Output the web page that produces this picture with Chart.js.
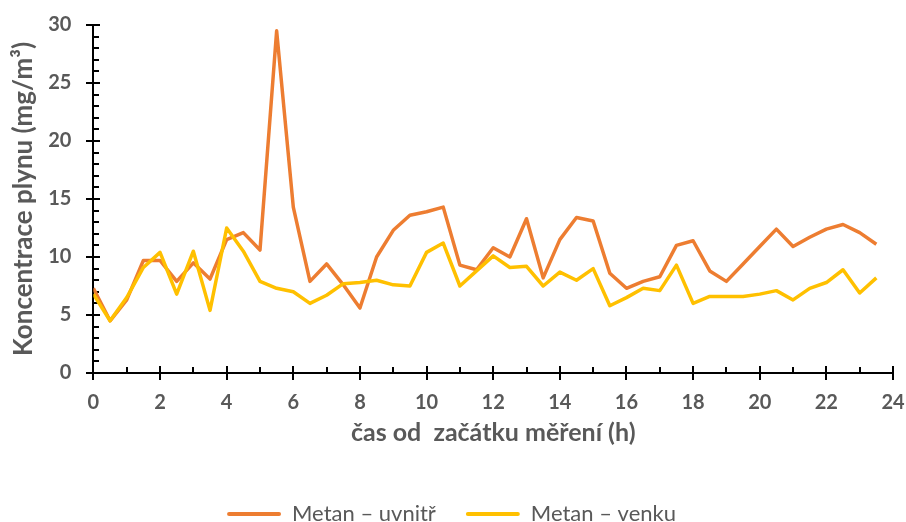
<!DOCTYPE html>
<html><head><meta charset="utf-8">
<script src="https://cdn.jsdelivr.net/npm/chart.js@4"></script>
<style>html,body{margin:0;padding:0;background:#fff}#wrap{width:906px;height:522px}</style>
</head><body><div id="wrap"><canvas id="c" width="906" height="522"></canvas></div>
<script>
const hours = [0,0.5,1,1.5,2,2.5,3,3.5,4,4.5,5,5.5,6,6.5,7,7.5,8,8.5,9,9.5,10,10.5,11,11.5,12,12.5,13,13.5,14,14.5,15,15.5,16,16.5,17,17.5,18,18.5,19,19.5,20,20.5,21,21.5,22,22.5,23,23.5];
const metanInside = [7.3,4.5,6.3,9.7,9.7,7.9,9.5,8.1,11.5,12.1,10.6,29.5,14.3,7.9,9.4,7.6,5.6,10.0,12.3,13.6,13.9,14.3,9.3,8.9,10.8,10.0,13.3,8.2,11.5,13.4,13.1,8.6,7.3,7.9,8.3,11.0,11.4,8.8,7.9,9.4,10.9,12.4,10.9,11.7,12.4,12.8,12.1,11.1];
const metanOutside = [6.8,4.5,6.5,9.1,10.4,6.8,10.5,5.4,12.5,10.5,7.9,7.3,7.0,6.0,6.7,7.7,7.8,8.0,7.6,7.5,10.4,11.2,7.5,8.8,10.1,9.1,9.2,7.5,8.7,8.0,9.0,5.8,6.5,7.3,7.1,9.3,6.0,6.6,6.6,6.6,6.8,7.1,6.3,7.3,7.8,8.9,6.9,8.2];
const seriesNames = ['Metan – uvnitř','Metan – venku'];
const xTitle = 'čas od  začátku měření (h)';
const yTitle = 'Koncentrace plynu (mg/m³)';

const FONT = 'Lato, "Open Sans", "Liberation Sans", sans-serif';
const GREY = '#595959';

const axesPlugin = {
  id: 'axesPlugin',
  beforeDatasetsDraw(chart) {
    const {ctx, scales:{x, y}} = chart;
    ctx.save();
    ctx.strokeStyle = '#000';
    ctx.lineWidth = 2;
    const x0 = Math.round(x.getPixelForValue(0)), y0 = Math.round(y.getPixelForValue(0));
    ctx.beginPath();
    ctx.moveTo(x0, y.getPixelForValue(30)); ctx.lineTo(x0, y0);
    ctx.moveTo(x0, y0); ctx.lineTo(x.getPixelForValue(24), y0);
    ctx.stroke();
    ctx.beginPath();
    for (let v = 0; v <= 30; v++) {
      const py = Math.round(y.getPixelForValue(v));
      if (v % 5 === 0) { ctx.moveTo(x0 - 7, py); ctx.lineTo(x0 + 7, py); }
      else { ctx.moveTo(x0, py); ctx.lineTo(x0 + 6, py); }
    }
    for (let v = 0; v <= 24; v++) {
      const px = Math.round(x.getPixelForValue(v));
      if (v % 2 === 0) { ctx.moveTo(px, y0 - 7); ctx.lineTo(px, y0 + 7); }
      else { ctx.moveTo(px, y0); ctx.lineTo(px, y0 - 6); }
    }
    ctx.stroke();
    ctx.restore();
  }
};

new Chart(document.getElementById('c'), {
  type: 'line',
  data: {
    datasets: [
      { label: seriesNames[0], data: hours.map((h,i)=>({x:h, y:metanInside[i]})), borderColor:'#ED7D31', backgroundColor:'#ED7D31', borderWidth:3.5, borderJoinStyle:'round', pointRadius:0, tension:0, order:1 },
      { label: seriesNames[1], data: hours.map((h,i)=>({x:h, y:metanOutside[i]})), borderColor:'#FFC000', backgroundColor:'#FFC000', borderWidth:3.5, borderJoinStyle:'round', pointRadius:0, tension:0, order:0 }
    ]
  },
  options: {
    responsive:false, animation:false,
    layout:{ autoPadding:false, padding:{ left:10, right:13, top:25, bottom:-13 } },
    plugins:{
      tooltip:{enabled:false},
      legend:{ position:'bottom',
        labels:{ boxWidth:54, boxHeight:4, padding:30, color:GREY, useBorderRadius:true, borderRadius:2,
          font:{family:FONT, size:22},
          sort:(a,b)=>a.datasetIndex-b.datasetIndex,
          generateLabels:(chart)=>Chart.defaults.plugins.legend.labels.generateLabels(chart).map(l=>Object.assign(l,{lineWidth:0}))
        } }
    },
    scales:{
      x:{ type:'linear', min:0, max:24,
        afterFit:(s)=>{ s.paddingLeft = 0; s.paddingRight = 0; },
        ticks:{ stepSize:2, color:GREY, padding:18, maxRotation:0, font:{family:FONT, size:20, weight:'bold'} },
        grid:{ display:false, drawTicks:false }, border:{ display:false },
        title:{ display:true, text:xTitle, color:GREY, font:{family:FONT, size:25, weight:'bold'}, padding:{top:-15, bottom:25} }
      },
      y:{ min:0, max:30,
        afterFit:(s)=>{ s.paddingTop = 0; s.paddingBottom = 0; },
        ticks:{ stepSize:5, color:GREY, padding:22, font:{family:FONT, size:20, weight:'bold'} },
        grid:{ display:false, drawTicks:false }, border:{ display:false },
        title:{ display:true, text:yTitle, color:GREY, font:{family:FONT, size:26, weight:'bold'}, padding:{top:-2, bottom:-13} }
      }
    }
  },
  plugins:[axesPlugin]
});
</script></body></html>
